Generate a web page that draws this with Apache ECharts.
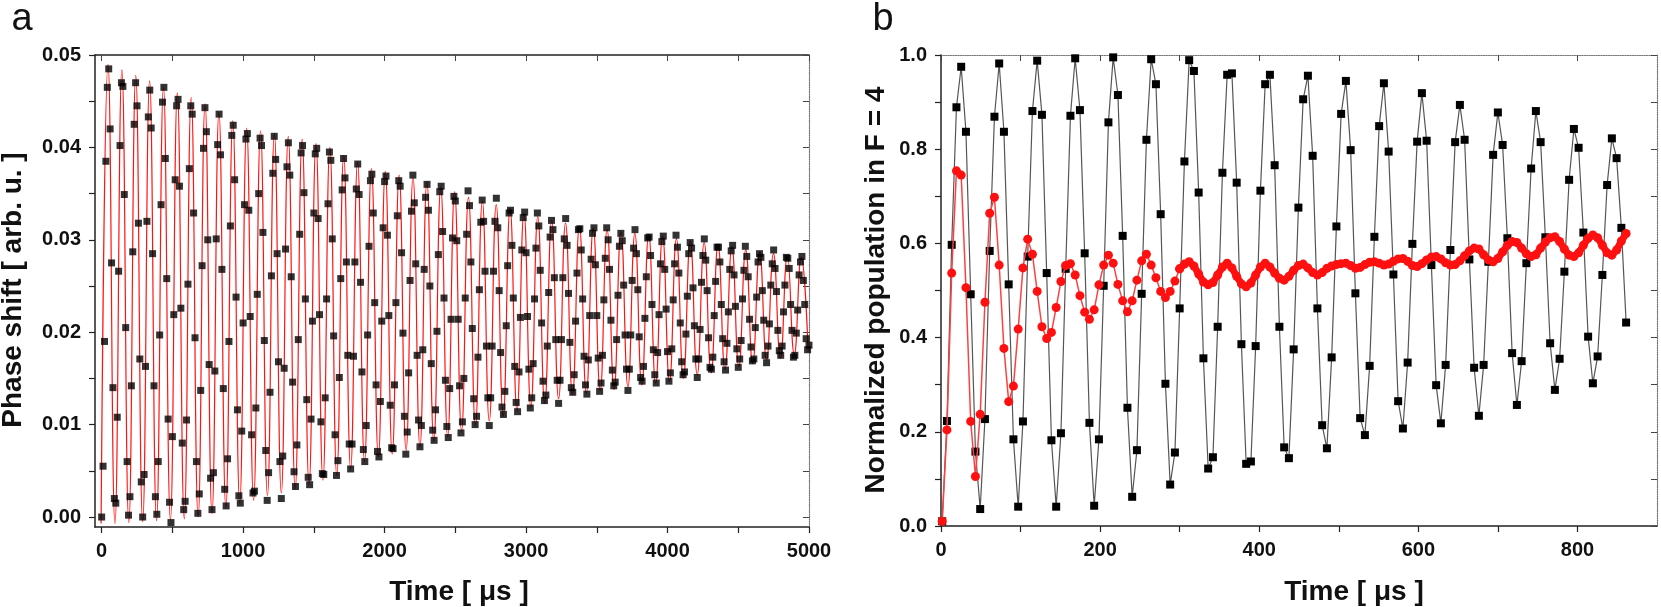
<!DOCTYPE html>
<html>
<head>
<meta charset="utf-8">
<title>Phase shift / population</title>
<script src="https://cdn.jsdelivr.net/npm/echarts@6.0.0/dist/echarts.min.js"></script>
<style>
  html, body { margin: 0; padding: 0; background: #fff; }
  #chart { width: 1661px; height: 607px; }
</style>
</head>
<body>
<div id="chart"></div>
<script>
// ---- panel a: phase shift, one sample every 10 us, values in 1e-4 arb. u.
var phaseStep = 10;
var phaseShift = [
  0, 55, 190, 385, 465, 485, 420, 275, 140, 20,
  15, 108, 266, 402, 470, 466, 349, 205, 60, 2,
  22, 142, 287, 425, 470, 445, 318, 171, 38, 0,
  46, 163, 320, 433, 462, 421, 285, 142, 22, 3,
  60, 197, 338, 449, 465, 388, 258, 106, 16, -6,
  87, 219, 365, 445, 452, 358, 226, 80, 8, 17,
  105, 252, 377, 445, 436, 329, 194, 60, 4, 25,
  137, 272, 399, 443, 417, 300, 165, 42, 8, 48,
  158, 301, 403, 436, 392, 268, 139, 30, 12, 63,
  190, 315, 413, 424, 365, 238, 116, 23, 15, 93,
  210, 338, 409, 415, 332, 217, 89, 26, 28, 118,
  241, 350, 410, 402, 308, 191, 72, 18, 48, 135,
  261, 372, 412, 387, 285, 168, 60, 20, 66, 161,
  290, 379, 405, 370, 260, 146, 49, 33, 78, 192,
  306, 394, 402, 351, 236, 127, 43, 35, 106, 212,
  329, 393, 399, 323, 219, 103, 47, 46, 129, 236,
  339, 395, 386, 301, 196, 89, 45, 61, 151, 258,
  354, 388, 367, 276, 175, 79, 52, 79, 174, 276,
  355, 382, 349, 254, 157, 73, 60, 99, 197, 293,
  364, 371, 329, 232, 143, 71, 65, 125, 212, 313,
  363, 369, 305, 218, 121, 75, 74, 143, 232, 326,
  364, 358, 286, 199, 109, 68, 92, 156, 256, 331,
  370, 340, 274, 175, 105, 76, 99, 181, 268, 346,
  360, 332, 250, 166, 94, 83, 116, 201, 284, 352,
  358, 309, 237, 148, 98, 86, 139, 214, 302, 347,
  342, 299, 214, 142, 91, 103, 150, 237, 306, 353,
  337, 276, 204, 128, 100, 109, 173, 246, 319, 343,
  320, 266, 185, 129, 99, 129, 185, 266, 320, 345,
  313, 245, 178, 119, 111, 136, 207, 272, 329, 332,
  294, 237, 163, 124, 114, 157, 216, 289, 324, 330,
  286, 217, 160, 118, 129, 166, 236, 291, 329, 315,
  267, 210, 147, 126, 132, 185, 243, 303, 321, 311,
  259, 192, 148, 123, 148, 192, 259, 301, 323, 294,
  242, 189, 140, 135, 154, 212, 264, 311, 312, 289,
  236, 174, 143, 133, 170, 218, 279, 307, 313, 273,
  218, 172, 136, 145, 175, 235, 280, 313, 300, 268,
  213, 159, 142, 146, 192, 240, 293, 307, 299, 251,
  197, 160, 137, 160, 197, 256, 291, 311, 285, 246,
  195, 151, 147, 163, 215, 260, 302, 303, 283, 230,
  181, 154, 145, 178, 219, 274, 298, 304, 268, 225,
  179, 147, 156, 182, 235, 274, 305, 292, 264, 210,
  168, 154, 157, 198, 239, 285, 297, 291, 248, 207,
  171, 151, 171, 203, 254, 283, 301, 278, 245, 194,
  162, 160, 173, 218, 255, 292, 292, 276, 230, 193,
  168, 159, 188, 222, 268, 288, 294, 262, 228, 182,
  162, 171, 191, 236, 267, 293, 282, 260, 214, 184,
  169, 171, 205, 238, 276, 285, 281, 245, 213, 175,
  167, 185, 209, 251, 274, 289, 269, 244, 202, 180,
  175, 185, 222, 251, 281, 280, 269, 230, 202, 173,
  175, 199, 224, 262, 276, 282, 256, 230, 193, 181,
  186
];
// fitted curve: alternating troughs / peaks (1e-4 arb. u.), first trough at -4 us, 49 us apart
var fitStart = -4;
var fitHalfPeriod = 49;
var fitExtrema = [
  -7, 490, -7, 484, -6, 478, -5, 472, -4, 465, -3, 459, -2, 454, 0, 447,
  4, 438, 10, 429, 15, 421, 18, 418, 23, 415, 26, 412, 30, 409, 35, 404,
  40, 400, 45, 391, 52, 384, 60, 377, 65, 374, 68, 370, 72, 367, 76, 363,
  82, 357, 87, 352, 93, 346, 99, 342, 104, 338, 109, 334, 115, 329, 119, 325,
  123, 321, 128, 318, 132, 315, 134, 313, 137, 311, 138, 309, 141, 307, 143, 306,
  145, 304, 147, 301, 150, 299, 154, 297, 156, 295, 160, 292, 163, 289, 166, 287,
  170, 285, 172, 283, 176, 281, 179
];

// ---- panel b: normalized population in F = 4, one sample every ~6 us
var popStart = 1.5;
var popStep = 5.97;
var popBlack = [
  0.01, 0.223, 0.597, 0.889, 0.975, 0.837, 0.492, 0.158, 0.036, 0.227,
  0.584, 0.869, 0.982, 0.837, 0.513, 0.184, 0.041, 0.222, 0.572, 0.881,
  0.988, 0.873, 0.537, 0.182, 0.041, 0.197, 0.546, 0.871, 0.993, 0.883,
  0.579, 0.219, 0.043, 0.184, 0.510, 0.857, 0.995, 0.915, 0.616, 0.251,
  0.062, 0.161, 0.493, 0.820, 0.991, 0.938, 0.662, 0.302, 0.088, 0.156,
  0.462, 0.774, 0.989, 0.966, 0.708, 0.356, 0.122, 0.146, 0.423, 0.750,
  0.958, 0.961, 0.729, 0.386, 0.132, 0.137, 0.382, 0.712, 0.938, 0.958,
  0.766, 0.423, 0.167, 0.144, 0.375, 0.676, 0.906, 0.956, 0.786, 0.462,
  0.214, 0.165, 0.358, 0.636, 0.875, 0.945, 0.798, 0.494, 0.229, 0.193,
  0.340, 0.614, 0.849, 0.940, 0.795, 0.534, 0.265, 0.207, 0.347, 0.599,
  0.816, 0.919, 0.818, 0.554, 0.299, 0.218, 0.342, 0.586, 0.815, 0.894,
  0.820, 0.566, 0.336, 0.234, 0.342, 0.561, 0.788, 0.878, 0.809, 0.611,
  0.367, 0.257, 0.350, 0.558, 0.759, 0.881, 0.815, 0.613, 0.388, 0.289,
  0.355, 0.540, 0.735, 0.843, 0.803, 0.623, 0.402, 0.303, 0.360, 0.533,
  0.724, 0.823, 0.781, 0.633, 0.432
];
var popRed = [
  0.01, 0.204, 0.537, 0.754, 0.745, 0.506, 0.222, 0.105, 0.237, 0.475,
  0.664, 0.698, 0.554, 0.377, 0.264, 0.297, 0.418, 0.548, 0.609, 0.577,
  0.498, 0.423, 0.398, 0.411, 0.464, 0.519, 0.553, 0.557, 0.533, 0.489,
  0.454, 0.439, 0.459, 0.512, 0.554, 0.575, 0.558, 0.513, 0.478, 0.455,
  0.478, 0.522, 0.563, 0.577, 0.554, 0.527, 0.498, 0.485, 0.498, 0.520,
  0.546, 0.556, 0.561, 0.552, 0.535, 0.518, 0.512, 0.517, 0.533, 0.550,
  0.558, 0.548, 0.530, 0.514, 0.508, 0.516, 0.533, 0.550, 0.558, 0.550,
  0.537, 0.526, 0.522, 0.530, 0.543, 0.553, 0.556, 0.548, 0.538, 0.533,
  0.538, 0.547, 0.552, 0.555, 0.557, 0.558, 0.553, 0.547, 0.549, 0.555,
  0.560, 0.561, 0.558, 0.554, 0.556, 0.562, 0.567, 0.568, 0.562, 0.553,
  0.551, 0.557, 0.565, 0.571, 0.572, 0.567, 0.559, 0.554, 0.555, 0.563,
  0.574, 0.584, 0.590, 0.588, 0.576, 0.565, 0.561, 0.568, 0.582, 0.596,
  0.604, 0.602, 0.590, 0.578, 0.572, 0.576, 0.590, 0.603, 0.612, 0.614,
  0.604, 0.588, 0.575, 0.572, 0.580, 0.596, 0.611, 0.618, 0.612, 0.596,
  0.580, 0.575, 0.586, 0.605, 0.621
];
// past this sample the red markers merge into one thick band
var redBandFrom = 50;

// ticks / labels
var aTimeLabels = [0, 1000, 2000, 3000, 4000, 5000];
var aTimeTicks = [0, 500, 1000, 1500, 2000, 2500, 3000, 3500, 4000, 4500, 5000];
var aPhaseLabels = [0, 0.01, 0.02, 0.03, 0.04, 0.05];
var aPhaseTicks = [0, 0.005, 0.01, 0.015, 0.02, 0.025, 0.03, 0.035, 0.04, 0.045, 0.05];
var bTimeLabels = [0, 200, 400, 600, 800];
var bTimeTicks = [0, 100, 200, 300, 400, 500, 600, 700, 800];
var bPopLabels = [0, 0.2, 0.4, 0.6, 0.8, 1.0];
var bPopTicks = [0, 0.1, 0.2, 0.3, 0.4, 0.5, 0.6, 0.7, 0.8, 0.9, 1.0];

var FONT = '"Liberation Sans", Arial, sans-serif';
var INK = '#111';

function pairs(arr, start, step, scale, from, to) {
  var out = [];
  from = from || 0;
  to = to === undefined ? arr.length - 1 : to;
  for (var i = from; i <= to; i++) {
    out.push([start + i * step, arr[i] * scale]);
  }
  return out;
}

function mainAxis(grid, pos, min, max, labels, ticks, digits) {
  return {
    type: 'value', gridIndex: grid, position: pos, min: min, max: max,
    axisLine: { show: true, onZero: false, lineStyle: { color: '#222', width: 1.5 } },
    axisTick: { show: true, customValues: ticks, length: 6, lineStyle: { color: '#222', width: 1.2 } },
    axisLabel: {
      show: true, customValues: labels, margin: 14,
      color: INK, fontFamily: FONT, fontSize: 20, fontWeight: 'bold',
      formatter: function (v) { return digits ? v.toFixed(digits) : String(v); }
    },
    splitLine: { show: false }
  };
}

function frameAxis(grid, pos, min, max, ticks, dotted) {
  return {
    type: 'value', gridIndex: grid, position: pos, min: min, max: max,
    axisLine: { show: true, onZero: false, lineStyle: { color: dotted ? '#777' : '#222', width: dotted ? 1.2 : 1.5, type: dotted ? 'dotted' : 'solid' } },
    axisTick: { show: true, inside: true, customValues: ticks, length: 6, lineStyle: { color: '#444' } },
    axisLabel: { show: false },
    splitLine: { show: false }
  };
}

var chart = echarts.init(document.getElementById('chart'));

var option = {
  animation: false,
  backgroundColor: '#fff',
  grid: [
    { left: 95, top: 55, width: 714, height: 472 },
    { left: 941, top: 55, width: 716, height: 471 }
  ],
  xAxis: [
    mainAxis(0, 'bottom', -47, 5000, aTimeLabels, aTimeTicks, 0),
    frameAxis(0, 'top', -47, 5000, aTimeTicks, false),
    mainAxis(1, 'bottom', 0, 900, bTimeLabels, bTimeTicks, 0),
    frameAxis(1, 'top', 0, 900, bTimeTicks, true)
  ],
  yAxis: [
    mainAxis(0, 'left', -0.00108, 0.05, aPhaseLabels, aPhaseTicks, 2),
    frameAxis(0, 'right', -0.00108, 0.05, aPhaseTicks, true),
    mainAxis(1, 'left', 0, 1, bPopLabels, bPopTicks, 1),
    frameAxis(1, 'right', 0, 1, bPopTicks, true)
  ],
  graphic: [
    { type: 'text', x: 22, y: 20, style: { text: 'a', font: '38px ' + FONT, fill: INK, align: 'center', verticalAlign: 'middle' } },
    { type: 'text', x: 883, y: 20, style: { text: 'b', font: '38px ' + FONT, fill: INK, align: 'center', verticalAlign: 'middle' } },
    { type: 'text', x: 459, y: 592, style: { text: 'Time [ μs ]', font: 'bold 28px ' + FONT, fill: INK, align: 'center', verticalAlign: 'middle' } },
    { type: 'text', x: 1354, y: 592, style: { text: 'Time [ μs ]', font: 'bold 28px ' + FONT, fill: INK, align: 'center', verticalAlign: 'middle' } },
    { type: 'text', x: 13, y: 290, rotation: Math.PI / 2, style: { text: 'Phase shift [ arb. u. ]', font: 'bold 28px ' + FONT, fill: INK, align: 'center', verticalAlign: 'middle' } },
    { type: 'text', x: 876, y: 290, rotation: Math.PI / 2, style: { text: 'Normalized population in F = 4', font: 'bold 28px ' + FONT, fill: INK, align: 'center', verticalAlign: 'middle' } }
  ],
  series: [
    {
      name: 'phase fit', type: 'line', xAxisIndex: 0, yAxisIndex: 0,
      smooth: 0.5, symbol: 'none',
      lineStyle: { color: '#ff1414', width: 1.2 },
      data: pairs(fitExtrema, fitStart, fitHalfPeriod, 1e-4), z: 2
    },
    {
      name: 'phase data', type: 'scatter', xAxisIndex: 0, yAxisIndex: 0,
      symbol: 'rect', symbolSize: 7,
      itemStyle: { color: '#000' },
      data: pairs(phaseShift, 0, phaseStep, 1e-4), z: 3
    },
    {
      name: 'population black', type: 'line', xAxisIndex: 2, yAxisIndex: 2,
      symbol: 'rect', symbolSize: 8, showAllSymbol: true,
      itemStyle: { color: '#000' },
      lineStyle: { color: '#555', width: 1.2 },
      data: pairs(popBlack, popStart, popStep, 1), z: 2
    },
    {
      name: 'population red', type: 'line', xAxisIndex: 2, yAxisIndex: 2,
      symbol: 'circle', symbolSize: 9, showAllSymbol: true,
      itemStyle: { color: '#ff1010' },
      lineStyle: { color: '#ff4040', width: 1.5 },
      data: pairs(popRed, popStart, popStep, 1, 0, redBandFrom), z: 3
    },
    {
      name: 'population red band', type: 'line', xAxisIndex: 2, yAxisIndex: 2,
      symbol: 'circle', symbolSize: 9, showAllSymbol: true,
      itemStyle: { color: '#ff1010' },
      lineStyle: { color: '#ff1010', width: 7 },
      data: pairs(popRed, popStart, popStep, 1, redBandFrom), z: 3
    }
  ]
};

chart.setOption(option);
</script>
</body>
</html>
